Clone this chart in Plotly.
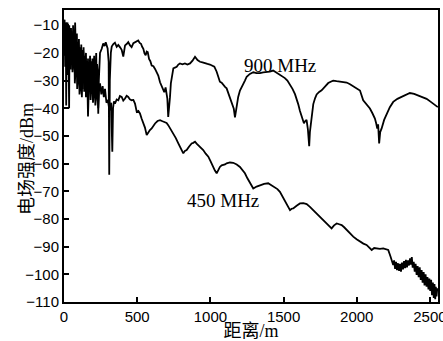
import plotly.graph_objects as go

# 900 MHz series (distance m, field strength dBm)
x900 = [0, 2, 4, 6, 8, 10, 12, 15, 18, 21, 24, 27, 30, 33, 36, 39, 42, 45, 48, 51, 55, 58, 62, 66, 70, 73, 76, 79, 82, 85, 88, 91, 95, 98, 102, 106, 110,
        114, 118, 122, 126, 130, 134, 138, 142, 146, 150, 154, 158, 161, 164, 167, 170, 174, 178, 182, 186, 190, 194, 197, 200, 203, 206, 209, 212, 216, 220, 223, 226, 230, 234, 238, 246,
        257, 268, 277, 285, 298, 305, 309, 313, 320, 326, 337, 348, 360, 371, 383, 394, 405, 417, 428, 439,
        450, 462, 474, 485, 496, 507, 517, 526, 534, 542, 550, 558, 565, 572, 581, 590, 599, 611, 622, 633,
        644, 656, 667, 676, 685, 694, 700, 706, 712, 718, 724, 730, 735, 747, 758, 770, 781, 792, 809, 826,
        843, 861, 878, 895, 912, 929, 946, 963, 980, 997, 1012, 1027, 1043, 1054, 1065, 1077, 1088, 1100, 1111, 1123,
        1134, 1150, 1160, 1168, 1175, 1190, 1202, 1213, 1225, 1236, 1248, 1270, 1293, 1316, 1339, 1361, 1384, 1406, 1429, 1452,
        1475, 1492, 1509, 1526, 1543, 1561, 1578, 1590, 1600, 1612, 1623, 1632, 1639, 1648, 1657, 1666, 1675, 1680, 1685, 1694,
        1703, 1715, 1726, 1743, 1760, 1783, 1805, 1822, 1839, 1862, 1885, 1908, 1931, 1954, 1976, 1999, 2022, 2044, 2067, 2090,
        2107, 2124, 2133, 2140, 2146, 2153, 2160, 2170, 2187, 2204, 2226, 2249, 2278, 2306, 2335, 2363, 2392, 2420, 2449, 2477,
        2506, 2534, 2554]
y900 = [-9, -16, -8, -20, -10, -24, -9, -39, -12, -22, -9, -19, -11, -25, -10, -18, -12, -23, -11, -20, -13, -26, -10, -21, -12, -17, -9, -22, -14, -28, -13, -24, -16, -30, -15, -27, -18,
        -29, -17, -31, -19, -26, -18, -33, -21, -27, -20, -35, -23, -29, -22, -31, -24, -28, -21, -33, -23, -30, -22, -34, -24, -29, -21, -31, -23, -28, -20, -30, -24, -27, -42, -30, -20,
        -18.6, -16.6, -17.5, -16.2, -18.4, -23.2, -64, -30, -20, -17.7, -16.8, -16.3, -17.8, -17.1, -18.0, -18.9, -21.3, -17.3, -16.8, -16.1,
        -17.2, -17.9, -16.5, -16.1, -15.8, -15.5, -16.4, -16.7, -17.8, -18.5, -20.2, -20.9, -19.5, -19.7, -22.2, -23.0, -24.6, -24.8, -25.8, -27.0,
        -28.2, -30.6, -31.8, -33.0, -34.2, -32.5, -35, -36.5, -43.1, -40, -36, -31, -29.2, -25.6, -25.3, -25.0, -24.2, -23.8, -24.1, -23.8,
        -24.2, -23.8, -22.8, -21.4, -22.6, -23.2, -23.4, -23.8, -24.0, -24.2, -24.5, -25.0, -26.8, -28.9, -30.4, -30.8, -31.6, -32.3, -32.8, -34.5,
        -35.9, -38.5, -40.2, -43.3, -40.5, -35.9, -33.6, -32.2, -31.2, -30.0, -28.6, -27.6, -27.0, -27.3, -27.3, -27.0, -27.0, -26.8, -26.4, -27.1,
        -27.9, -28.4, -29.1, -30.0, -31.3, -33.0, -34.9, -36.7, -38.5, -41.0, -43.0, -44.6, -45.4, -44.6, -44.2, -47.5, -53.7, -48.5, -46.1, -41.8,
        -38.5, -36.4, -35.0, -34.1, -33.5, -32.2, -30.9, -30.4, -30.0, -30.2, -30.3, -30.5, -30.7, -31.3, -32.1, -32.8, -33.6, -37.1, -38.6, -40.1,
        -41.8, -43.7, -45.5, -47.3, -45.8, -52.7, -48.6, -47.3, -44.2, -41.9, -39.6, -37.7, -36.6, -35.9, -35.1, -34.5, -34.8, -35.4, -35.9, -36.6,
        -37.7, -39.0, -39.6]

# 450 MHz series
x450 = [0, 3, 5, 8, 10, 14, 17, 20, 22, 25, 28, 30, 33, 35, 38, 40, 44, 48, 52, 55, 58, 62, 66, 70, 74, 78, 82, 86, 90, 94, 98, 102, 106, 110, 114, 118, 122, 126, 130, 134,
        138, 142, 146, 150, 154, 158, 164, 170, 174, 178, 182, 186, 190, 194, 198, 202, 206, 210, 214, 218, 222, 226, 230, 234, 240, 246, 255, 264, 272, 280, 290,
        300, 308, 314, 322, 330, 335, 341, 348, 360, 371, 382, 394, 405, 417, 428, 439, 450, 462, 474, 485,
        497, 508, 519, 530, 542, 553, 565, 576, 587, 599, 611, 622, 639, 656, 673, 690, 701, 712, 730, 747,
        764, 781, 798, 815, 826, 838, 855, 872, 883, 895, 906, 917, 934, 951, 968, 986, 1000, 1009, 1020, 1031,
        1043, 1054, 1065, 1077, 1088, 1100, 1111, 1134, 1156, 1180, 1202, 1219, 1236, 1253, 1270, 1282, 1293, 1316, 1339, 1367,
        1395, 1418, 1441, 1458, 1475, 1492, 1509, 1526, 1544, 1555, 1566, 1589, 1612, 1635, 1658, 1680, 1703, 1726, 1748, 1771,
        1788, 1805, 1816, 1828, 1845, 1863, 1880, 1897, 1914, 1931, 1954, 1976, 1999, 2022, 2045, 2067, 2085, 2102, 2119, 2136,
        2158, 2181, 2198, 2215, 2230, 2238, 2249, 2255, 2262, 2268, 2275, 2282, 2289, 2295, 2302, 2309, 2316, 2323, 2330, 2336,
        2343, 2350, 2357, 2364, 2370, 2376, 2382, 2389, 2396, 2402, 2409, 2416, 2423, 2430, 2437, 2443, 2450, 2457, 2463, 2470,
        2477, 2483, 2490, 2496, 2502, 2508, 2514, 2520, 2526, 2531, 2536, 2540, 2545, 2550]
y450 = [-12, -21, -10, -25, -11, -19, -9, -16, -28, -10, -24, -14, -30, -40, -13, -15, -26, -21, -12, -13, -27, -24, -15, -17, -31, -27, -16, -19, -33, -30, -18, -22, -35, -33, -20, -24, -36, -30, -19, -21,
        -34, -28, -22, -36, -25, -26, -43, -30, -24, -25, -37, -33, -26, -27, -38, -35, -27, -29, -39, -37, -28, -31, -36, -40, -33, -31, -35, -32, -36, -33, -38,
        -37, -40, -40.7, -38, -55.7, -40, -37.5, -38.3, -36.8, -37.1, -35.6, -35.9, -37.2, -36.5, -35.5, -35.9, -36.8, -37.1, -37.0, -38.3,
        -41.3, -41.0, -41.9, -43.7, -45.5, -47.0, -49.7, -48.5, -47.9, -47.3, -46.2, -45.5, -44.6, -44.3, -44.7, -44.9, -45.3, -46.1, -47.6, -49.1,
        -50.8, -52.7, -54.6, -56.3, -55.4, -55.1, -53.8, -52.7, -52.5, -52.1, -52.8, -53.3, -54.2, -55.1, -56.4, -57.5, -59.0, -60.2, -61.2, -62.5,
        -63.5, -62.0, -61.2, -60.6, -60.5, -60.3, -59.9, -59.6, -59.7, -60.3, -61.2, -62.3, -63.5, -65.3, -67.1, -68.2, -69.0, -68.3, -67.8, -67.3,
        -67.1, -67.8, -68.4, -69.2, -70.2, -71.7, -73.2, -75.0, -76.8, -76.3, -76.2, -75.2, -74.4, -74.3, -74.6, -75.6, -76.8, -78.3, -79.4, -80.4,
        -81.2, -82.2, -82.8, -83.4, -82.3, -81.6, -81.9, -82.2, -83.0, -84.0, -85.3, -86.4, -87.3, -88.2, -88.9, -89.4, -90.2, -91.2, -90.5, -90.6,
        -90.8, -90.6, -90.9, -91.2, -93.5, -94.8, -96.6, -95.0, -98.0, -95.5, -98.5, -96.0, -98.8, -96.2, -99.0, -95.8, -98.2, -95.2, -97.8, -94.8,
        -97.5, -95.0, -96.8, -94.2, -96.5, -93.8, -97.6, -95.5, -99.0, -96.2, -100.2, -97.0, -101.0, -97.5, -102.0, -98.5, -103.0, -99.2, -104.0, -100.0,
        -104.5, -101.0, -105.5, -101.5, -106.0, -102.0, -107.5, -103.0, -108.5, -103.5, -109.0, -104.5, -108.0, -105.0]

xticks = [0, 500, 1000, 1500, 2000, 2500]
yticks = [-110, -100, -90, -80, -70, -60, -50, -40, -30, -20, -10]

fig = go.Figure()
fig.add_trace(go.Scatter(x=x900, y=y900, mode="lines",
                         line=dict(color="black", width=1.8), showlegend=False))
fig.add_trace(go.Scatter(x=x450, y=y450, mode="lines",
                         line=dict(color="black", width=1.8), showlegend=False))

fig.add_annotation(x=1475, y=-24.5, text="900 MHz", showarrow=False,
                   font=dict(family="Liberation Serif", size=19, color="black"))
fig.add_annotation(x=1087, y=-73.5, text="450 MHz", showarrow=False,
                   font=dict(family="Liberation Serif", size=19, color="black"))

tickfont = dict(family="Liberation Sans, Arial", size=15, color="black")
titlefont = dict(family="Liberation Serif, Noto Sans CJK SC", size=18, color="black")

# y-axis title placed as rotated text to match the reference position
fig.add_annotation(xref="paper", yref="paper", x=-0.131, y=0.49, text="电场强度/dBm",
                   textangle=-90, showarrow=False, font=titlefont)

fig.update_xaxes(range=[0, 2555], tickvals=xticks, ticks="inside", ticklen=5, tickwidth=1.5,
                 tickcolor="black", showline=True, linecolor="black", linewidth=2, mirror=True,
                 showgrid=False, zeroline=False, tickfont=tickfont, ticklabeloverflow="allow",
                 automargin=False,
                 title=dict(text="距离/m", font=titlefont, standoff=2))
fig.update_yaxes(range=[-110, -4.5], tickvals=yticks, ticks="inside", ticklen=5, tickwidth=1.5,
                 tickcolor="black", showline=True, linecolor="black", linewidth=2, mirror=True,
                 showgrid=False, zeroline=False, tickfont=tickfont, automargin=False)

fig.update_layout(width=443, height=341, margin=dict(l=64, r=5, t=10, b=39),
                  plot_bgcolor="white", paper_bgcolor="white")

fig.write_html("out.html")
